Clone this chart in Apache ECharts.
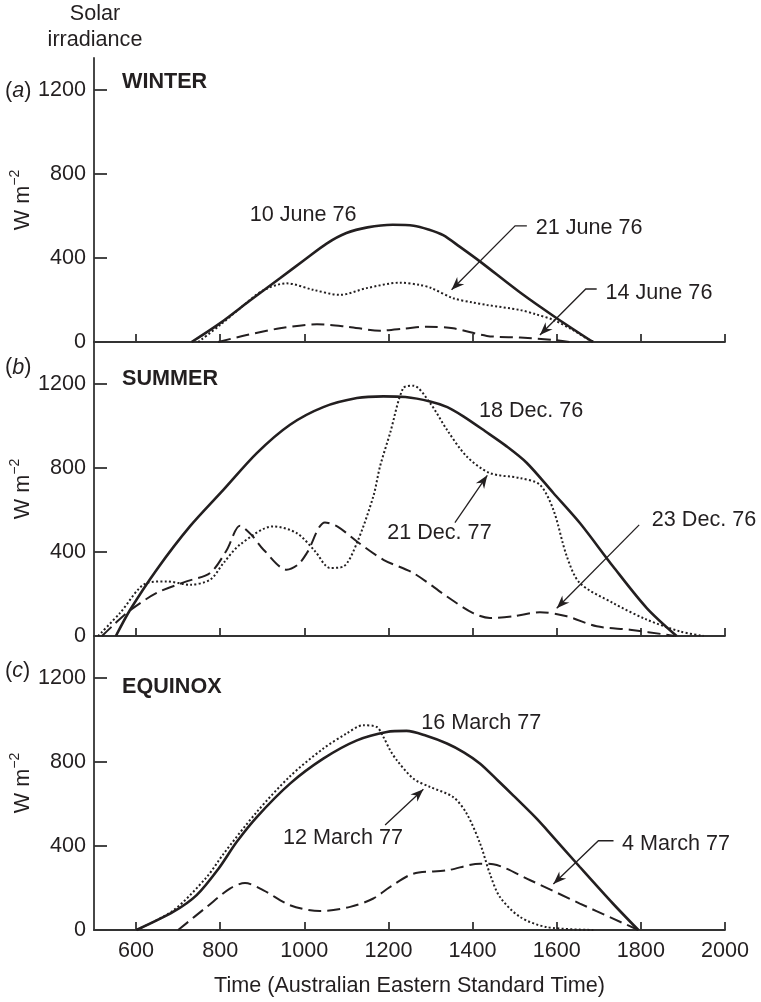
<!DOCTYPE html>
<html><head><meta charset="utf-8">
<script src="https://cdn.jsdelivr.net/npm/echarts@6/dist/echarts.min.js"></script>
<style>html,body{margin:0;padding:0;background:#fff}#c{width:761px;height:1002px}</style>
</head><body><div id="c"></div>
<script>
// ---------- data ----------
const xTicks = [600, 800, 1000, 1200, 1400, 1600, 1800, 2000];
const yTicks = [0, 400, 800, 1200];
const panelNames = ['WINTER', 'SUMMER', 'EQUINOX'];
const panelLetters = ['a', 'b', 'c'];

// (a) WINTER
const june10 = [[732,0],[800,90],[870,196],[942,303],[1000,390],[1053,468],[1100,518],[1150,545],[1210,557],[1260,553],[1295,535],[1330,508],[1370,452],[1418,382],[1513,235],[1600,113],[1686,0]];
const june21 = [[748,0],[800,81],[850,165],[902,245],[958,279],[1021,248],[1085,224],[1148,256],[1228,282],[1275,271],[1300,258],[1354,208],[1400,188],[1434,176],[1513,152],[1550,132],[1592,105],[1640,55],[1671,17],[1690,0]];
const june14 = [[795,0],[863,33],[942,65],[1030,84],[1101,73],[1180,54],[1240,64],[1291,73],[1354,65],[1434,29],[1513,21],[1592,10],[1630,0]];

// (b) SUMMER
const dec18 = [[552,0],[586,125],[649,316],[728,522],[808,697],[887,871],[966,1006],[1045,1090],[1125,1133],[1188,1141],[1240,1138],[1299,1117],[1340,1090],[1378,1046],[1430,975],[1481,903],[1529,824],[1592,681],[1655,538],[1734,331],[1814,133],[1885,0]];
const dec21 = [[510,0],[562,110],[625,252],[673,260],[728,244],[776,268],[808,348],[847,435],[926,522],[982,490],[1025,405],[1061,324],[1093,331],[1125,443],[1164,665],[1180,808],[1204,967],[1235,1180],[1259,1192],[1299,1109],[1339,982],[1386,855],[1441,776],[1513,752],[1560,720],[1592,601],[1624,379],[1655,252],[1734,157],[1814,78],[1893,22],[1949,0]];
const dec23 = [[519,0],[545,50],[582,117],[649,205],[720,260],[776,300],[816,411],[847,525],[875,480],[903,411],[958,316],[985,340],[1006,395],[1049,541],[1080,520],[1125,450],[1188,363],[1259,300],[1339,188],[1400,110],[1441,86],[1497,94],[1560,113],[1624,94],[1695,46],[1774,30],[1861,6],[1880,0]];

// (c) EQUINOX
const mar16 = [[601,0],[689,87],[744,166],[796,292],[839,419],[887,538],[966,697],[1045,816],[1125,903],[1196,943],[1243,948],[1290,925],[1339,888],[1380,845],[1418,792],[1460,712],[1497,640],[1550,535],[1576,478],[1655,300],[1734,125],[1794,0]];
const mar12 = [[601,0],[689,94],[768,252],[808,363],[887,562],[966,732],[1045,864],[1100,935],[1140,975],[1172,967],[1188,919],[1204,856],[1220,808],[1259,721],[1299,681],[1354,633],[1386,554],[1418,411],[1441,268],[1465,157],[1513,62],[1576,14],[1687,0]];
const mar4 = [[700,0],[768,110],[823,197],[859,224],[903,189],[966,118],[1037,90],[1109,110],[1164,150],[1204,205],[1259,268],[1339,284],[1418,316],[1449,313],[1537,237],[1655,126],[1734,54],[1794,0]];

// annotations (data coordinates: [time, W m-2])
const annotationText = ['10 June 76','21 June 76','14 June 76','18 Dec. 76','21 Dec. 77','23 Dec. 76','16 March 77','12 March 77','4 March 77'];
const annotationPanel = [0,0,0,1,1,1,2,2,2];
const annotationAnchor = [[870,602],[1550,541],[1716,235],[1415,1070],[1197,491],[1826,552],[1278,984],[949,440],[1755,411]];
const annotationArrow = [null,[[1529,552],[1501,552],[1350,248]],[[1695,252],[1669,252],[1560,33]],null,[[1358,540],[1435,765]],[[1796,529],[1600,132]],null,[[1192,500],[1283,670]],[[1735,425],[1699,425],[1592,219]]];

// ---------- chart ----------
const FONT = '"Liberation Sans", Arial, Helvetica, sans-serif';
const FS = 21.6;
const INK = '#231f20';
const AX = '#333333';
const gridTops = [58, 342, 636];
const gridHeights = [284, 294, 294];
const yMax = [1350, 1400, 1400];

const chart = echarts.init(document.getElementById('c'), null, {renderer: 'canvas'});

function lineSeries(data, g, kind) {
  let ls;
  if (kind === 'solid') ls = {width: 2.6, type: 'solid'};
  else if (kind === 'dashed') ls = {width: 2, type: [13, 6]};
  else ls = {width: 2, type: [2, 2.3]};
  return {type: 'line', xAxisIndex: g, yAxisIndex: g, data: data, smooth: 0.3,
    showSymbol: false, symbol: 'none', silent: true, animation: false,
    lineStyle: Object.assign({color: INK}, ls)};
}
const plain = v => String(v);

const option = {
  animation: false,
  backgroundColor: '#ffffff',
  grid: [0,1,2].map(i => ({left: 94, width: 631, top: gridTops[i], height: gridHeights[i]})),
  xAxis: [0,1,2].map(i => ({
    type: 'value', gridIndex: i, min: 500, max: 2000,
    axisLine: {onZero: false, lineStyle: {color: AX, width: 1.8}},
    axisTick: {inside: true, length: 8, customValues: xTicks, lineStyle: {color: AX, width: 1.8}},
    axisLabel: {show: i === 2, customValues: xTicks, formatter: plain, margin: 10, fontSize: FS, fontFamily: FONT, color: INK},
    splitLine: {show: false}
  })),
  yAxis: [0,1,2].map(i => ({
    type: 'value', gridIndex: i, min: 0, max: yMax[i],
    axisLine: {show: true, onZero: false, lineStyle: {color: AX, width: 1.8}},
    axisTick: {show: true, inside: true, length: 13, customValues: yTicks, lineStyle: {color: AX, width: 1.8}},
    axisLabel: {customValues: yTicks, formatter: plain, margin: 8, fontSize: FS, fontFamily: FONT, color: INK},
    splitLine: {show: false}
  })),
  series: [
    lineSeries(june10, 0, 'solid'), lineSeries(june21, 0, 'dotted'), lineSeries(june14, 0, 'dashed'),
    lineSeries(dec18, 1, 'solid'), lineSeries(dec21, 1, 'dotted'), lineSeries(dec23, 1, 'dashed'),
    lineSeries(mar16, 2, 'solid'), lineSeries(mar12, 2, 'dotted'), lineSeries(mar4, 2, 'dashed')
  ]
};
chart.setOption(option);

// ---------- static text + annotations ----------
const graphics = [];
function txt(x, y, text, extra) {
  graphics.push({type: 'text', x: x, y: y, silent: true, z: 10,
    style: Object.assign({text: text, fontSize: FS, fontFamily: FONT, fill: INK, align: 'left', verticalAlign: 'middle'}, extra || {})});
}
txt(95, 14, 'Solar', {align: 'center'});
txt(95, 40, 'irradiance', {align: 'center'});
txt(409.5, 986, 'Time (Australian Eastern Standard Time)', {align: 'center'});

const titleY = [82.5, 379, 687];
const letterY = [91, 367.5, 671];
const unitY = [200, 489, 783];
for (let i = 0; i < 3; i++) {
  txt(122, titleY[i], panelNames[i], {fontWeight: 'bold'});
  graphics.push({type: 'text', x: 5, y: letterY[i], silent: true, z: 10,
    style: {text: '{n|(}{i|' + panelLetters[i] + '}{n|)}', align: 'left', verticalAlign: 'middle',
      rich: {n: {fontSize: FS, fontFamily: FONT, fill: INK}, i: {fontSize: FS, fontFamily: FONT, fontStyle: 'italic', fill: INK}}}});
  graphics.push({type: 'text', x: 21, y: unitY[i], rotation: Math.PI / 2, silent: true, z: 10,
    style: {text: '{a|W m}{b|\u22122}', align: 'center', verticalAlign: 'middle',
      rich: {a: {fontSize: FS, fontFamily: FONT, fill: INK, lineHeight: 26, verticalAlign: 'bottom'},
             b: {fontSize: 14, fontFamily: FONT, fill: INK, lineHeight: 14, verticalAlign: 'top'}}}});
}

function px(g, p) { return chart.convertToPixel({gridIndex: g}, p); }
for (let k = 0; k < annotationText.length; k++) {
  const g = annotationPanel[k];
  const a = px(g, annotationAnchor[k]);
  txt(a[0], a[1], annotationText[k]);
  const arr = annotationArrow[k];
  if (arr) {
    const pts = arr.map(p => px(g, p));
    graphics.push({type: 'polyline', silent: true, z: 10, shape: {points: pts},
      style: {stroke: INK, lineWidth: 1.3, fill: null}});
    const tip = pts[pts.length - 1], prev = pts[pts.length - 2];
    let dx = tip[0] - prev[0], dy = tip[1] - prev[1];
    const len = Math.hypot(dx, dy); dx /= len; dy /= len;
    const nx = -dy, ny = dx, L = 13, W = 5, N = 9;
    graphics.push({type: 'polygon', silent: true, z: 11, shape: {points: [
      tip,
      [tip[0] - dx * L + nx * W, tip[1] - dy * L + ny * W],
      [tip[0] - dx * N, tip[1] - dy * N],
      [tip[0] - dx * L - nx * W, tip[1] - dy * L - ny * W]
    ]}, style: {fill: INK, stroke: null}});
  }
}
chart.setOption({graphic: graphics});
</script>
</body></html>
